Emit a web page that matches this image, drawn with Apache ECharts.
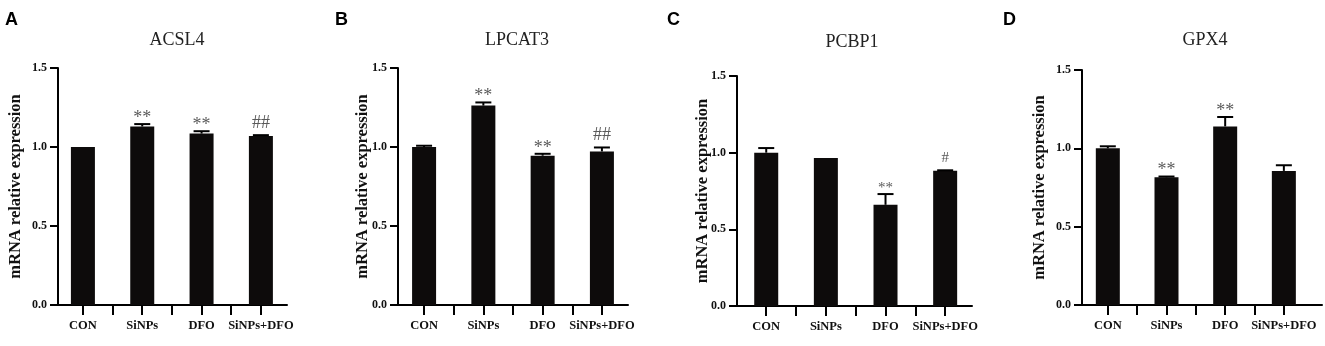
<!DOCTYPE html>
<html>
<head>
<meta charset="utf-8">
<script src="https://cdn.jsdelivr.net/npm/echarts@6/dist/echarts.min.js"></script>
<style>
  html, body { margin: 0; padding: 0; background: #fff; }
  #chart { width: 1325px; height: 346px; }
</style>
</head>
<body>
<div id="chart"></div>
<script>
// groups on the x axis
var categories = ['CON', 'SiNPs', 'DFO', 'SiNPs+DFO'];
var yTicks = [0, 0.5, 1.0, 1.5];

// A - ACSL4
var acsl4Mean = [1.0, 1.13, 1.085, 1.07];
var acsl4Err = [0, 0.015, 0.015, 0.005];
var acsl4Sig = ['', '**', '**', '##'];

// B - LPCAT3
var lpcat3Mean = [1.0, 1.262, 0.945, 0.972];
var lpcat3Err = [0.008, 0.02, 0.012, 0.025];
var lpcat3Sig = ['', '**', '**', '##'];

// C - PCBP1
var pcbp1Mean = [1.0, 0.965, 0.66, 0.882];
var pcbp1Err = [0.03, 0, 0.07, 0.003];
var pcbp1Sig = ['', '', '**', '#'];

// D - GPX4
var gpx4Mean = [1.0, 0.815, 1.14, 0.856];
var gpx4Err = [0.013, 0.005, 0.06, 0.036];
var gpx4Sig = ['', '**', '**', ''];

var panels = [
  { letter: 'A', title: 'ACSL4', mean: acsl4Mean, err: acsl4Err, sig: acsl4Sig,
    grid: { left: 58, top: 68, width: 229, height: 237 }, xMin: -0.42, xMax: 3.44,
    titleX: 177, titleY: 40, letterX: 5, nameGap: 34, sigSize: 18 },
  { letter: 'B', title: 'LPCAT3', mean: lpcat3Mean, err: lpcat3Err, sig: lpcat3Sig,
    grid: { left: 398, top: 68, width: 230, height: 237 }, xMin: -0.44, xMax: 3.44,
    titleX: 517, titleY: 40, letterX: 335, nameGap: 27, sigSize: 18 },
  { letter: 'C', title: 'PCBP1', mean: pcbp1Mean, err: pcbp1Err, sig: pcbp1Sig,
    grid: { left: 737, top: 76, width: 235, height: 230 }, xMin: -0.49, xMax: 3.45,
    titleX: 852, titleY: 42, letterX: 667, nameGap: 26, sigSize: 15 },
  { letter: 'D', title: 'GPX4', mean: gpx4Mean, err: gpx4Err, sig: gpx4Sig,
    grid: { left: 1082, top: 70, width: 240, height: 235 }, xMin: -0.44, xMax: 3.65,
    titleX: 1205, titleY: 40, letterX: 1003, nameGap: 34, sigSize: 18 }
];

var SERIF = '"Liberation Serif", "Times New Roman", serif';
var SANS = '"Liberation Sans", Arial, sans-serif';

var grids = [], xAxes = [], yAxes = [], series = [], graphics = [];

panels.forEach(function (p, k) {
  grids.push(p.grid);

  xAxes.push({
    type: 'value', gridIndex: k, min: p.xMin, max: p.xMax,
    splitLine: { show: false },
    axisLine: { show: true, onZero: false, lineStyle: { color: '#000', width: 2 } },
    axisTick: { show: true, length: 10, lineStyle: { color: '#000', width: 2 },
      customValues: [0, 0.5, 1, 1.5, 2, 2.5, 3] },
    axisLabel: {
      customValues: [0, 1, 2, 3], margin: 14,
      formatter: function (v) { return categories[Math.round(v)]; },
      fontFamily: SERIF, fontWeight: 'bold', fontSize: 12.5, color: '#111'
    }
  });

  yAxes.push({
    type: 'value', gridIndex: k, min: 0, max: 1.5, interval: 0.5,
    name: 'mRNA relative expression', nameLocation: 'middle', nameGap: p.nameGap,
    nameMoveOverlap: false,
    nameTextStyle: { fontFamily: SERIF, fontWeight: 'bold', fontSize: 16.5, color: '#111' },
    splitLine: { show: false },
    axisLine: { show: true, onZero: false, lineStyle: { color: '#000', width: 2 } },
    axisTick: { show: true, length: 8, lineStyle: { color: '#000', width: 2 } },
    axisLabel: {
      margin: 11, fontFamily: SERIF, fontWeight: 'bold', fontSize: 12, color: '#111',
      formatter: function (v) { return v.toFixed(1); }
    }
  });

  series.push({
    type: 'bar', xAxisIndex: k, yAxisIndex: k, barWidth: 24,
    itemStyle: { color: '#0d0b0b' },
    data: p.mean.map(function (m, i) { return [i, m]; })
  });

  // error bars (upper only) and significance marks
  series.push({
    type: 'custom', xAxisIndex: k, yAxisIndex: k, z: 5,
    data: p.mean.map(function (m, i) { return [i, m, p.err[i]]; }),
    renderItem: function (params, api) {
      var x = api.value(0), m = api.value(1), e = api.value(2);
      var base = api.coord([x, m]);
      var top = api.coord([x, m + e]);
      var children = [];
      if (e > 0) {
        children.push({ type: 'line', shape: { x1: base[0], y1: base[1], x2: top[0], y2: top[1] },
          style: { stroke: '#000', lineWidth: 2 } });
        children.push({ type: 'line', shape: { x1: top[0] - 8, y1: top[1], x2: top[0] + 8, y2: top[1] },
          style: { stroke: '#000', lineWidth: 2 } });
      }
      var s = p.sig[params.dataIndex];
      if (s) {
        var isStar = s.charAt(0) === '*';
        children.push({ type: 'text',
          style: { text: s, x: top[0], y: top[1] - (isStar ? 6 : 12),
            align: 'center', verticalAlign: 'middle',
            fontFamily: SERIF, fontSize: p.sigSize, fill: '#5a5a5a' } });
      }
      return { type: 'group', children: children };
    }
  });

  graphics.push({ type: 'text', x: p.titleX, y: p.titleY,
    style: { text: p.title, align: 'center', verticalAlign: 'middle',
      fontFamily: SERIF, fontSize: 18, fill: '#222' } });
  graphics.push({ type: 'text', x: p.letterX, y: 20,
    style: { text: p.letter, align: 'left', verticalAlign: 'middle',
      fontFamily: SANS, fontWeight: 'bold', fontSize: 18, fill: '#000' } });
});

var chart = echarts.init(document.getElementById('chart'));
chart.setOption({
  animation: false,
  backgroundColor: '#fff',
  grid: grids,
  xAxis: xAxes,
  yAxis: yAxes,
  series: series,
  graphic: graphics
});
</script>
</body>
</html>
